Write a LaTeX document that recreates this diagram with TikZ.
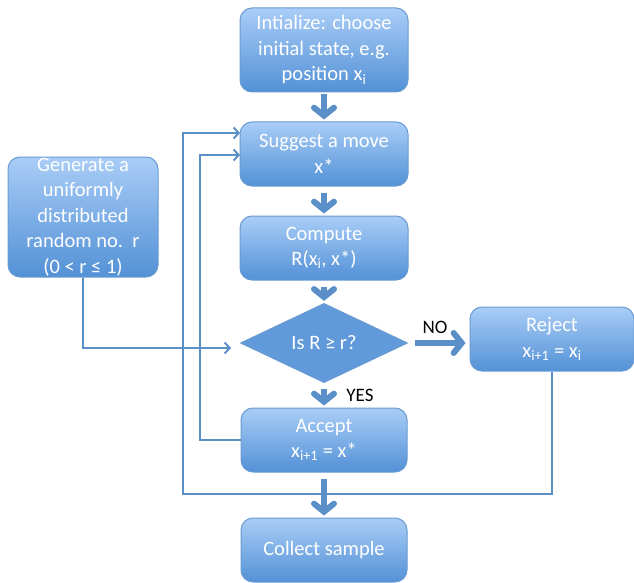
\documentclass[tikz,border=0pt]{standalone}
\usepackage{fontspec}
\setmainfont{Carlito}
\usetikzlibrary{shapes.geometric,arrows.meta}
\definecolor{boxtop}{HTML}{A9CDF7}
\definecolor{boxbot}{HTML}{5391D6}
\definecolor{boxline}{HTML}{6A9BD2}
\definecolor{arr}{HTML}{5B8FC7}
\begin{document}
\begin{tikzpicture}[x=1pt,y=-1pt,
  box/.style={draw=boxline, line width=1pt, rounded corners=12pt, top color=boxtop, bottom color=boxbot,
    text=white, align=center, inner sep=0pt, font=\fontsize{20.5}{25.5}\selectfont},
  dia/.style={diamond, draw=boxline, line width=1pt, fill=boxbot!85!boxtop, text=white, inner sep=0pt,
    minimum width=167pt, minimum height=71pt, font=\fontsize{20.5}{25}\selectfont},
  bigarrow/.style={draw=arr, line width=6pt, -{Straight Barb[length=8pt,width=20pt,line cap=round]}},
  thinarrow/.style={draw=arr, line width=2pt, -{Straight Barb[length=5pt,width=11pt]}},
  lbl/.style={text=black, font=\fontsize{19}{22}\selectfont, inner sep=0pt}]
\useasboundingbox[fill=white] (0,0) rectangle (634,583);
\node[box, minimum width=168pt, minimum height=84pt] (init) at (324,50) {Intialize: choose\\initial state, e.g.\\position x\textsubscript{i}};
\node[box, minimum width=168pt, minimum height=64pt] (sug) at (324,154) {Suggest a move\\x*};
\node[box, minimum width=150pt, minimum height=120pt] (gen) at (83,217) {Generate a\\uniformly\\distributed\\random no.\ \ r\\(0 < r ≤ 1)};
\node[box, minimum width=168pt, minimum height=64pt] (comp) at (324,248) {Compute\\R(x\textsubscript{i}, x*)};
\node[dia] (d) at (324,343) {Is R ≥ r?};
\node[box, minimum width=164pt, minimum height=64pt] (rej) at (552,339) {Reject\\x\textsubscript{i+1} = x\textsubscript{i}};
\node[box, minimum width=166pt, minimum height=64pt] (acc) at (324,440) {Accept\\x\textsubscript{i+1} = x*};
\node[box, minimum width=166pt, minimum height=64pt] (col) at (324,550) {Collect sample};
\node[lbl] (no) at (435,327) {NO};
\node[lbl] (yes) at (360,395) {YES};
% thick arrows
\draw[bigarrow, shorten <=2pt, shorten >=2pt] (init) -- (sug);
\draw[bigarrow, shorten <=6pt, shorten >=2pt] (sug) -- (comp);
\draw[bigarrow, shorten <=6pt, shorten >=2pt] (comp) -- (d);
\draw[bigarrow, shorten <=6pt, shorten >=2pt] (d) -- (acc);
\draw[bigarrow, shorten >=4pt] ([xshift=7pt]d.east) -- (d.east -| rej.west);
\draw[bigarrow, shorten <=6pt, shorten >=2pt] (acc) -- (col);
% thin loops
\coordinate (s1) at (240,133);
\coordinate (s2) at (240,155);
\coordinate (lb) at (183,494);
\coordinate (al) at (200,155);
\coordinate (dw) at (231,348);
\draw[thinarrow] (rej.south) |- (lb) |- (s1);
\draw[thinarrow] (acc.west) -| (al) -- (s2);
\draw[thinarrow] (gen.south) |- (dw);
\end{tikzpicture}
\end{document}
